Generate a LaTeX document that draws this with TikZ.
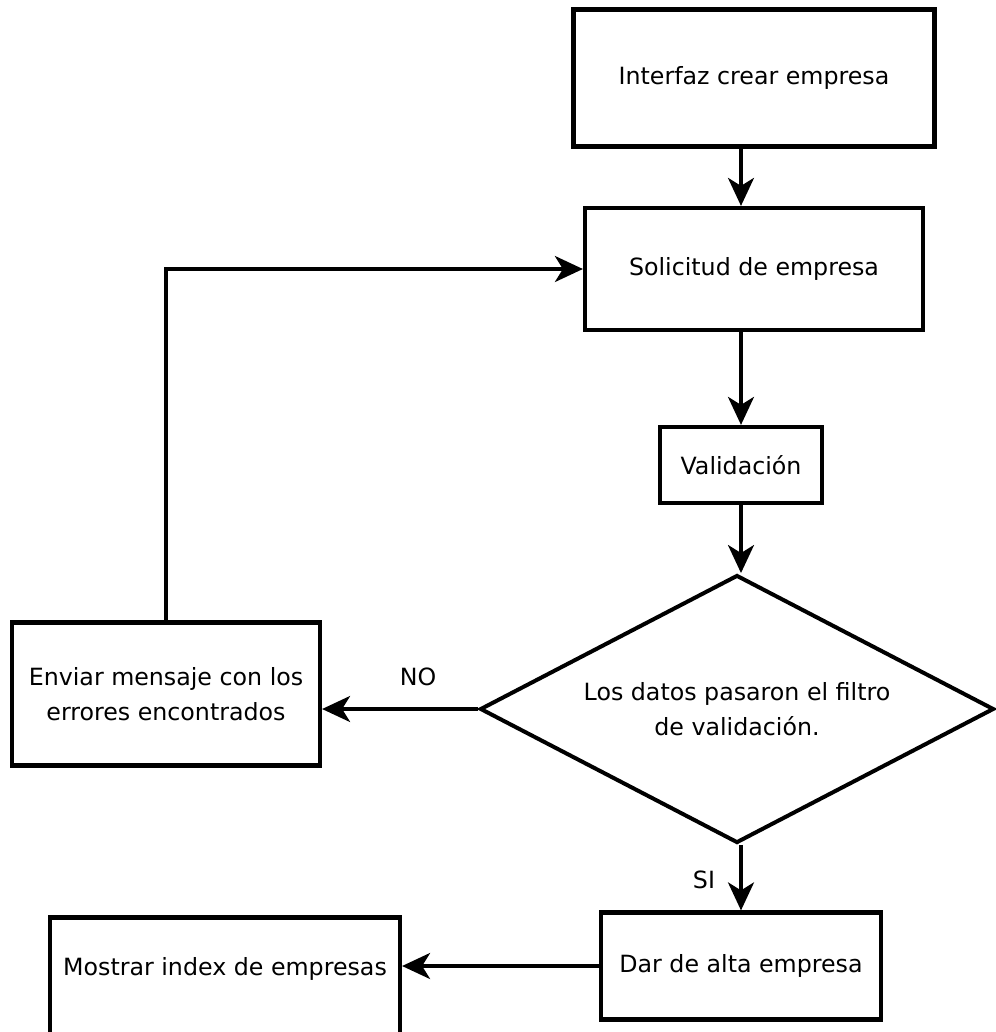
\documentclass[tikz,border=0pt]{standalone}
\usepackage{fontspec}
\setmainfont{DejaVu Sans}
\usetikzlibrary{arrows.meta,shapes.geometric}

\begin{document}
\begin{tikzpicture}[x=0.02cm, y=-0.02cm,
        caja/.style={draw, line width=0.085cm, align=center, inner sep=0pt,
            font=\fontsize{13.5}{20}\selectfont},
        decision/.style={diamond, aspect=1.92, draw, line width=0.08cm, align=center, inner sep=0pt,
            font=\fontsize{13.5}{20}\selectfont},
        flecha/.style={-{Stealth[length=0.56cm, width=0.52cm, inset=0.16cm]}, line width=0.07cm},
        etiqueta/.style={font=\fontsize{13.5}{16}\selectfont}]
        \useasboundingbox (0,0) rectangle (996,1032);

        % column of steps
        \node[caja, minimum width=7.22cm, minimum height=2.74cm] (interfaz) at (754,78) {Interfaz crear empresa};
        \node[caja, minimum width=6.76cm, minimum height=2.44cm] (solicitud) at (754,269) {Solicitud de empresa};
        \node[caja, minimum width=3.24cm, minimum height=1.52cm] (validacion) at (741,465) {Validación};

        % decision
        \node[decision, minimum width=10.28cm, minimum height=5.36cm] (filtro) at (737,709)
            {Los datos pasaron el filtro\\de validación.};

        % outcomes
        \node[caja, minimum width=6.16cm, minimum height=2.86cm] (enviar) at (166,694)
            {Enviar mensaje con los\\errores encontrados};
        \node[caja, minimum width=5.6cm, minimum height=2.14cm] (alta) at (741,966) {Dar de alta empresa};
        \node[caja, minimum width=7.0cm, minimum height=2.54cm] (mostrar) at (225,981)
            {\raisebox{0.6cm}{Mostrar index de empresas}};

        % arrows
        \draw[flecha] (interfaz.south -| validacion) -- (solicitud.north -| validacion);
        \draw[flecha] (solicitud.south -| validacion) -- (validacion);
        \draw[flecha] (validacion) -- (validacion |- filtro.north);
        \draw[flecha] (filtro.west) -- (filtro.west -| enviar.east);
        \draw[flecha] (enviar.north) |- (solicitud.west);
        \draw[flecha] (alta |- filtro.south) -- (alta);
        \draw[flecha] (alta.west) -- (alta.west -| mostrar.east);

        % labels
        \node[etiqueta] (no) at (418,677) {NO};
        \node[etiqueta] (si) at (704,880) {SI};
    \end{tikzpicture}
\end{document}
